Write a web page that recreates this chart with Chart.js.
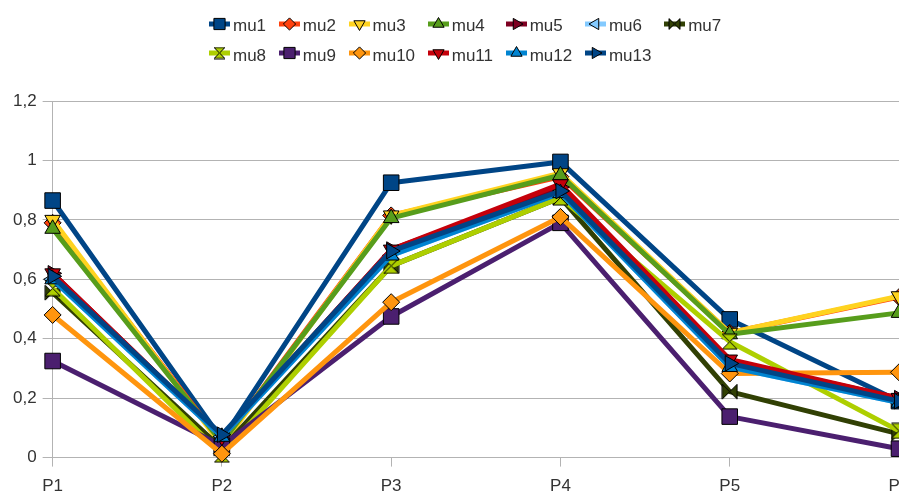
<!DOCTYPE html>
<html lang="en">
<head>
<meta charset="UTF-8">
<title>mu1 - mu13</title>
<script src="https://cdn.jsdelivr.net/npm/chart.js"></script>
<style>
  body { margin: 0; overflow: hidden; background: #fff; font-family: 'Liberation Sans', Arial, sans-serif; }
  #wrap { position: relative; width: 899px; height: 493px; overflow: hidden; }
  #chart { position: absolute; left: 0; top: 0; }
  #legend {
    position: absolute; left: 209px; top: 13.5px;
    display: grid; grid-template-columns: repeat(7, auto);
    column-gap: 12.7px; row-gap: 9.5px;
  }
  .item { display: flex; align-items: center; height: 20px; font-size: 17px; line-height: 20px; color: #333; white-space: nowrap; }
  .item canvas { margin-right: 3px; }
  .item span { position: relative; top: 2.5px; }
</style>
</head>
<body>
<div id="wrap">
  <canvas id="chart" width="935" height="507"></canvas>
  <div id="legend"></div>
</div>
<script>
const categories = ['P1', 'P2', 'P3', 'P4', 'P5', 'P6'];
const yTickLabels = ['0', '0,2', '0,4', '0,6', '0,8', '1', '1,2'];

const mu1  = [0.865, 0.06,  0.925, 0.995, 0.465, 0.19];
const mu2  = [0.79,  0.05,  0.815, 0.945, 0.42,  0.54];
const mu3  = [0.80,  0.04,  0.815, 0.957, 0.42,  0.543];
const mu4  = [0.77,  0.05,  0.806, 0.95,  0.415, 0.487];
const mu5  = [0.62,  0.07,  0.70,  0.91,  0.325, 0.20];
const mu6  = [0.60,  0.07,  0.68,  0.89,  0.305, 0.185];
const mu7  = [0.555, 0.03,  0.645, 0.875, 0.222, 0.08];
const mu8  = [0.57,  0.01,  0.645, 0.875, 0.39,  0.09];
const mu9  = [0.325, 0.04,  0.475, 0.79,  0.138, 0.03];
const mu10 = [0.48,  0.013, 0.523, 0.81,  0.283, 0.287];
const mu11 = [0.62,  0.07,  0.70,  0.92,  0.33,  0.20];
const mu12 = [0.60,  0.07,  0.68,  0.89,  0.305, 0.185];
const mu13 = [0.61,  0.077, 0.695, 0.897, 0.317, 0.19];

const seriesNames = ['mu1', 'mu2', 'mu3', 'mu4', 'mu5', 'mu6', 'mu7', 'mu8', 'mu9', 'mu10', 'mu11', 'mu12', 'mu13'];
const seriesValues = [mu1, mu2, mu3, mu4, mu5, mu6, mu7, mu8, mu9, mu10, mu11, mu12, mu13];
const seriesColors = ['#004586', '#ff420e', '#ffd320', '#579d1c', '#7e0021', '#83caff', '#314004',
                      '#aecf00', '#4b1f6f', '#ff950e', '#c5000b', '#0084d1', '#004586'];
const seriesMarkers = ['square', 'diamond', 'down', 'up', 'right', 'left', 'bowtieH',
                       'bowtieV', 'square', 'diamond', 'down', 'up', 'right'];

const FONT = "'Liberation Sans', Arial, sans-serif";
const GRID = '#b3b3b3';

// two-triangle markers, drawn into small canvases and used as point images
function bowtie(color, size, vertical) {
  const c = document.createElement('canvas');
  c.width = size + 2;
  c.height = size + 2;
  const g = c.getContext('2d');
  const a = 1, b = size + 1, m = (size + 2) / 2;
  g.beginPath();
  if (vertical) {
    g.moveTo(a, a); g.lineTo(b, a); g.lineTo(m, m); g.closePath();
    g.moveTo(a, b); g.lineTo(b, b); g.lineTo(m, m); g.closePath();
  } else {
    g.moveTo(a, a); g.lineTo(a, b); g.lineTo(m, m); g.closePath();
    g.moveTo(b, a); g.lineTo(b, b); g.lineTo(m, m); g.closePath();
  }
  g.fillStyle = color;
  g.fill();
  g.strokeStyle = '#000';
  g.lineWidth = 1;
  g.stroke();
  return c;
}

function markerStyle(kind, color, scale) {
  switch (kind) {
    case 'square':  return { pointStyle: 'rect', rotation: 0, radius: 11 * scale };
    case 'diamond': return { pointStyle: 'rectRot', rotation: 0, radius: 8.5 * scale };
    case 'up':      return { pointStyle: 'triangle', rotation: 0, radius: 9 * scale };
    case 'down':    return { pointStyle: 'triangle', rotation: 180, radius: 9 * scale };
    case 'right':   return { pointStyle: 'triangle', rotation: 90, radius: 9 * scale };
    case 'left':    return { pointStyle: 'triangle', rotation: 270, radius: 9 * scale };
    case 'bowtieH': return { pointStyle: bowtie(color, Math.round(15 * scale), false), rotation: 0, radius: 8 * scale };
    case 'bowtieV': return { pointStyle: bowtie(color, Math.round(15 * scale), true), rotation: 0, radius: 8 * scale };
  }
}

const datasets = seriesNames.map((name, i) => {
  const m = markerStyle(seriesMarkers[i], seriesColors[i], 1);
  return {
    label: name,
    data: seriesValues[i],
    borderColor: seriesColors[i],
    backgroundColor: seriesColors[i],
    borderWidth: 5,
    borderJoinStyle: 'round',
    tension: 0,
    pointStyle: m.pointStyle,
    pointRotation: m.rotation,
    pointRadius: m.radius,
    pointBackgroundColor: seriesColors[i],
    pointBorderColor: '#000',
    pointBorderWidth: 1,
    clip: false,
    order: seriesNames.length - i   // later series on top
  };
});

Chart.defaults.font.family = FONT;
Chart.defaults.font.size = 17;
Chart.defaults.color = '#333';

new Chart(document.getElementById('chart'), {
  type: 'line',
  data: { labels: categories, datasets: datasets },
  options: {
    responsive: false,
    animation: false,
    layout: { padding: { top: 101, left: 7, right: 36, bottom: 0 } },
    plugins: { legend: { display: false }, tooltip: { enabled: false } },
    scales: {
      x: {
        grid: { drawOnChartArea: false, color: GRID, tickLength: 9 },
        border: { color: GRID },
        ticks: { padding: 10, maxRotation: 0, autoSkip: false }
      },
      y: {
        min: 0,
        max: 1.2,
        grid: { color: GRID, tickLength: 10 },
        border: { color: GRID },
        ticks: { stepSize: 0.2, padding: 6, callback: (v, i) => yTickLabels[i] }
      }
    }
  }
});

// legend laid out as a grid: line segment with marker, then the name
const legendBox = document.getElementById('legend');
seriesNames.forEach((name, i) => {
  const item = document.createElement('div');
  item.className = 'item';
  const sym = document.createElement('canvas');
  sym.width = 21;
  sym.height = 14;
  const g = sym.getContext('2d');
  g.fillStyle = seriesColors[i];
  g.fillRect(0, 4.5, 21, 5);
  const m = markerStyle(seriesMarkers[i], seriesColors[i], 0.72);
  g.fillStyle = seriesColors[i];
  g.strokeStyle = '#000';
  g.lineWidth = 1;
  Chart.helpers.drawPoint(g, { pointStyle: m.pointStyle, rotation: m.rotation, radius: m.radius, borderWidth: 1 }, 10.5, 7);
  const label = document.createElement('span');
  label.textContent = name;
  item.appendChild(sym);
  item.appendChild(label);
  legendBox.appendChild(item);
});
</script>
</body>
</html>
